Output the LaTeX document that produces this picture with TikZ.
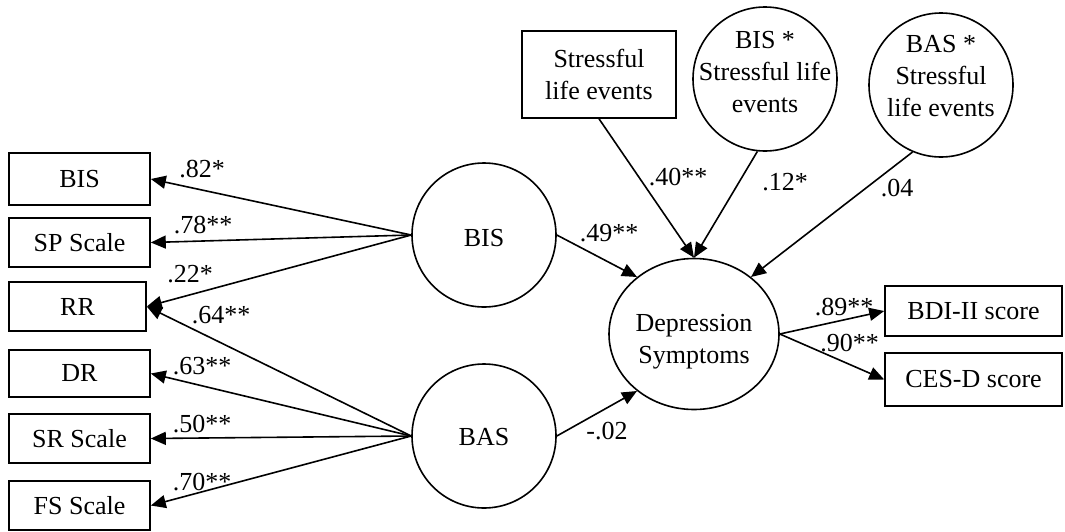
\documentclass[tikz,border=0pt]{standalone}
\usepackage{fontspec}
\setmainfont{Liberation Serif}
\usetikzlibrary{arrows.meta,shapes.geometric}
\begin{document}
\begin{tikzpicture}[x=1pt,y=-1pt,
  every node/.style={font=\fontsize{26}{32}\selectfont, inner sep=0pt},
  obs/.style={draw, line width=1.6pt, rectangle, align=center},
  lat/.style={draw, line width=1.6pt, circle, minimum size=144pt},
  latel/.style={draw, line width=1.6pt, ellipse, minimum width=170pt, minimum height=151pt},
  txt/.style={align=center},
  path/.style={line width=1.6pt, -{Triangle[length=15pt,width=13pt]}}]
\useasboundingbox (0,0) rectangle (1065,531);

% observed indicators of BIS and BAS
\node[obs, minimum width=141pt, minimum height=52pt] (o1) at (79.5,179) {BIS};
\node[obs, minimum width=141pt, minimum height=49pt] (o2) at (79.5,242.5) {SP Scale};
\node[obs, minimum width=137pt, minimum height=49pt] (o3) at (77.5,306.5) {RR};
\node[obs, minimum width=141pt, minimum height=47pt] (o4) at (79.5,373.5) {DR};
\node[obs, minimum width=141pt, minimum height=49pt] (o5) at (79.5,438.5) {SR Scale};
\node[obs, minimum width=141pt, minimum height=49pt] (o6) at (79.5,505.5) {FS Scale};

% latent factors
\node[lat] (bis) at (484,235) {};
\node[txt] (bist) at (484,238) {BIS};
\node[lat] (bas) at (484,436) {};
\node[txt] (bast) at (484,437) {BAS};

% predictors of depression
\node[obs, minimum width=154pt, minimum height=87pt] (sle) at (599,74.5) {Stressful\\life events};
\node[lat] (bisx) at (765,79) {};
\node[txt] (bisxt) at (765,72.5) {BIS *\\Stressful life\\events};
\node[lat] (basx) at (941,85) {};
\node[txt] (basxt) at (941,76) {BAS *\\Stressful\\life events};

% outcome
\node[latel] (dep) at (694,334) {};
\node[txt] (dept) at (694,342) {Depression\\Symptoms};
\node[obs, minimum width=177pt, minimum height=50pt] (bdi) at (973.5,311) {BDI-II score};
\node[obs, minimum width=177pt, minimum height=53pt] (ces) at (973.5,379.5) {CES-D score};

% loadings
\draw[path] (bis.west) -- (o1.east);
\draw[path] (bis.west) -- (o2.east);
\draw[path] (bis.west) -- (o3.east);
\draw[path] (bas.west) -- (o3.east);
\draw[path] (bas.west) -- (o4.east);
\draw[path] (bas.west) -- (o5.east);
\draw[path] (bas.west) -- (o6.east);

% structural paths
\draw[path] (bis.east) -- (dep.135);
\draw[path] (bas.east) -- (dep.225);
\draw[path] (sle.south) -- (dep.north);
\draw[path] (bisx.264) -- (dep.north);
\draw[path] (basx.247) -- (dep.45);
\draw[path] (dep.east) -- (bdi.west);
\draw[path] (dep.east) -- (ces.west);

% coefficients
\node (c1) at (202,169) {.82*};
\node (c2) at (203,225.5) {.78**};
\node (c3) at (190,274) {.22*};
\node (c4) at (221,315.5) {.64**};
\node (c5) at (202,366) {.63**};
\node (c6) at (202,424.5) {.50**};
\node (c7) at (202,482) {.70**};
\node (c8) at (609,233.5) {.49**};
\node (c9) at (607,431) {-.02};
\node (c10) at (678,177) {.40**};
\node (c11) at (785,182) {.12*};
\node (c12) at (897,188) {.04};
\node (c13) at (844,307.5) {.89**};
\node (c14) at (849.5,343.5) {.90**};
\end{tikzpicture}
\end{document}
